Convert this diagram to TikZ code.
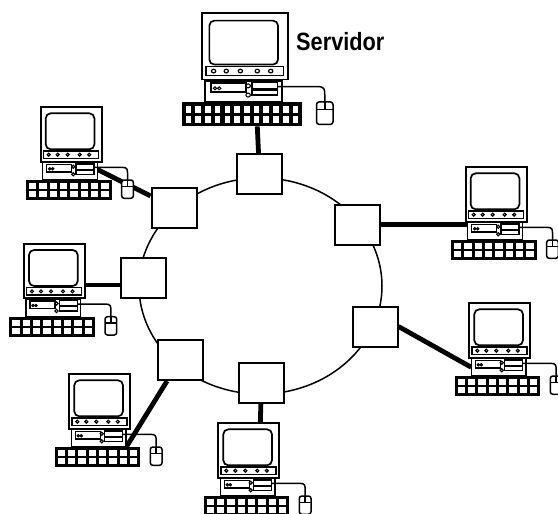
\documentclass[tikz,border=0pt]{standalone}
\usepackage{fontspec}
\usepackage{tikz}
\usetikzlibrary{backgrounds}
\newfontfamily\servfont[FakeStretch=0.87]{Liberation Sans}
\tikzset{hub/.style = {shape=rectangle,draw,fill=white,line width=2pt,minimum width=45pt,minimum height=40pt,inner sep=0pt}}
\tikzset{link/.style = {line width=4.8pt}}
\tikzset{pcline/.style = {line width=1.5pt}}
\tikzset{pics/computer/.default=8}
\tikzset{pics/computer/.style = {code = {
    % monitor
    \draw[line width=1.9pt,fill=white] (0,0) rectangle (61,54.3);
    \draw[line width=1.7pt,rounded corners=5pt] (5,6) rectangle (53.7,42);
    \draw[pcline] (2.7,43.7) rectangle (57.7,51);
    \foreach \bx in {8,17,27,39,48.5}
        \draw[line width=1.2pt] (\bx,47.35) circle (1.5pt);
    % cpu
    \draw[pcline,fill=white] (2,55.3) rectangle (56.7,72.7);
    \draw[pcline] (6,57) rectangle (31,64.5);
    \draw[line width=1pt] (9,61.5) circle (1.2pt) (12,61.5) circle (1.2pt);
    \draw[line width=1.1pt] (32.5,59.5) circle (1.6pt) (32.5,67) circle (1.6pt);
    \draw[pcline] (35.3,56.7) rectangle (53.3,62) (35.3,62.7) rectangle (53.3,67);
    % keyboard
    \fill (-14.7,72.7) rectangle (71,92.7);
    \pgfmathsetmacro\keyw{(85.7-2.9*(#1+1))/#1}
    \foreach \k in {1,...,#1}{
        \pgfmathsetmacro\keyx{-11.8+(\k-1)*(\keyw+2.9)}
        \fill[white] (\keyx,75.6) rectangle +(\keyw,6);
        \fill[white] (\keyx,83.8) rectangle +(\keyw,6);
    }
    % mouse
    \draw[pcline] (53.3,60) -- (81,60) .. controls (86.85,60) and (86.85,62) .. (86.85,67) -- (86.85,72.7);
    \draw[pcline,fill=white,rounded corners=2.5pt] (81,72.7) rectangle (92.7,91);
    \draw[pcline] (81,79) -- (92.7,79) (86.85,72.7) -- (86.85,79);
    \coordinate (-top) at (42,0);
    \coordinate (-east) at (61,41);
    \coordinate (-west) at (2,64);
    \coordinate (-drive) at (54.3,61);
    \coordinate (-cpu) at (57,72.7);
    \coordinate (-kbd) at (39,92.7);
}}}

\begin{document}
\begin{tikzpicture}[x=1pt,y=-1pt]
    \useasboundingbox (0,0) rectangle (558,514);
    \clip (0,0) rectangle (558,514);

    \draw[line width=1.5pt] (260.5,286) ellipse [x radius=121.5,y radius=108];

    \node[hub] (hsrv) at (259.5,174) {};
    \node[hub] (hnw) at (174,207.5) {};
    \node[hub] (hne) at (357,224.5) {};
    \node[hub] (hw) at (143,278) {};
    \node[hub] (hse) at (375,326.5) {};
    \node[hub] (hsw) at (180,360) {};
    \node[hub] (hs) at (261.5,382.5) {};

    \pic[xscale=1.41,yscale=1.22] (srv) at (202.3,13.3) {computer=12};
    \pic (pcnw) at (40.7,107.3) {computer};
    \pic (pcw) at (24,244) {computer};
    \pic (pcsw) at (69.3,374.3) {computer};
    \pic (pcs) at (218.3,423.3) {computer};
    \pic (pcse) at (469.3,303.3) {computer};
    \pic (pcne) at (465.7,167.3) {computer};

    \node[font=\servfont\bfseries\fontsize{25}{30}\selectfont,anchor=base west,inner sep=0pt] (lblsrv) at (296,50) {Servidor};

    \begin{scope}[on background layer]
        \draw[link] (srv-kbd) -- (hsrv);
        \draw[link] (pcnw-drive) -- (hnw);
        \draw[link] (hne.east) -- (hne.east -| pcne-west);
        \draw[link] (pcw-east) -- (pcw-east -| hw.west);
        \draw[link] (hse.east) -- (pcse-west);
        \draw[link] (hsw) -- (pcsw-cpu);
        \draw[link] (hs) -- (pcs-top);
    \end{scope}
\end{tikzpicture}
\end{document}
